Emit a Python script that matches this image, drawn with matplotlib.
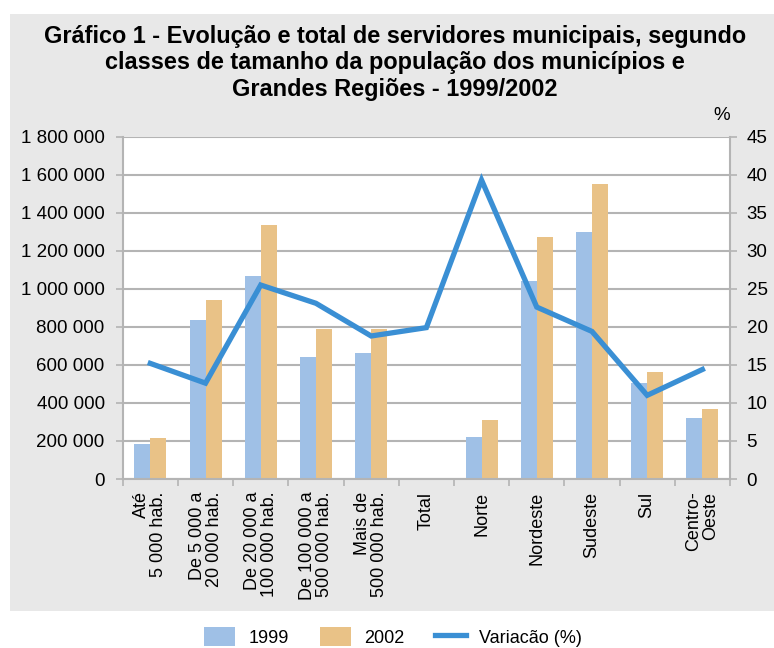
import numpy as np
import matplotlib
matplotlib.use("Agg")
import matplotlib.pyplot as plt
from matplotlib.patches import Rectangle, Patch
from matplotlib.lines import Line2D

plt.rcParams['font.family'] = ['Liberation Sans', 'DejaVu Sans']

categories = ["Até\n5 000 hab.", "De 5 000 a\n20 000 hab.", "De 20 000 a\n100 000 hab.",
              "De 100 000 a\n500 000 hab.", "Mais de\n500 000 hab.", "Total",
              "Norte", "Nordeste", "Sudeste", "Sul", "Centro-\nOeste"]
serv_1999 = [184000, 837000, 1068000, 642000, 663000, np.nan,
             221000, 1042000, 1300000, 505000, 321000]
serv_2002 = [214000, 942000, 1337000, 789000, 789000, np.nan,
             311000, 1274000, 1553000, 563000, 368000]
variacao = [15.2, 12.6, 25.5, 23.1, 18.8, 19.9, 39.3, 22.6, 19.4, 11.0, 14.4]

c1999 = "#9fc0e6"
c2002 = "#e9c287"
cline = "#3a8fd4"
grid_c = "#b4b4b4"

fig = plt.figure(figsize=(7.74, 6.48), dpi=100)
fig.patch.set_facecolor("white")
fig.patches.append(Rectangle((10 / 774, 1 - 611 / 648), 764 / 774, 597 / 648,
                             transform=fig.transFigure, facecolor="#e8e8e8",
                             edgecolor="none", zorder=-10))

ax = fig.add_axes([122.7 / 774, 1 - 479 / 648, (730 - 122.7) / 774, (479 - 136.7) / 648])
ax.set_facecolor("white")
x = np.arange(len(categories))
w = 0.29
ax.bar(x - w / 2, serv_1999, width=w, color=c1999, zorder=2)
ax.bar(x + w / 2, serv_2002, width=w, color=c2002, zorder=2)

ax.set_xlim(-0.5, len(categories) - 0.5)
ax.set_ylim(0, 1800000)
yt = np.arange(0, 1800001, 200000)
ax.set_yticks(yt)
ax.set_yticklabels([f"{v:,}".replace(",", " ") for v in yt], fontsize=13.5)
ax.yaxis.grid(True, color=grid_c, linewidth=1.5, zorder=0)
ax.set_axisbelow(True)

ax.set_xticks(x)
ax.set_xticklabels(categories, rotation=90, fontsize=13, va="top", ha="center",
                   multialignment="right", linespacing=1.0)
ax.tick_params(axis="x", length=0, pad=9)
ax.set_xticks(np.arange(-0.5, len(categories), 1), minor=True)
ax.tick_params(axis="x", which="minor", length=5, color=grid_c, width=1.2)
ax.tick_params(axis="y", length=5, color=grid_c, width=1.2, pad=8)

for s in ["left", "right", "bottom"]:
    ax.spines[s].set_color(grid_c)
    ax.spines[s].set_linewidth(1.5)
ax.spines["top"].set_visible(False)

ax2 = ax.twinx()
ax2.plot(x, variacao, color=cline, linewidth=3.8, zorder=3, solid_joinstyle="miter")
ax2.set_ylim(0, 45)
ax2.set_yticks(np.arange(0, 46, 5))
ax2.tick_params(axis="y", length=5, color=grid_c, width=1.2, labelsize=13.5, pad=7)
for s in ["left", "right", "bottom", "top"]:
    ax2.spines[s].set_visible(False)
fig.text(722 / 774, 1 - 116 / 648, "%", fontsize=13.5, ha="center", va="center")

fig.text(395 / 774, 1 - 63 / 648,
         "Gráfico 1 - Evolução e total de servidores municipais, segundo\n"
         "classes de tamanho da população dos municípios e\n"
         "Grandes Regiões - 1999/2002",
         fontsize=16.9, fontweight="bold", ha="center", va="center", linespacing=1.2)

handles = [Patch(facecolor=c1999, edgecolor="none"),
           Patch(facecolor=c2002, edgecolor="none"),
           Line2D([0], [0], color=cline, linewidth=3.8)]
fig.legend(handles, ["1999", "2002", "Variacão (%)"], loc="center",
           bbox_to_anchor=(393 / 774, 1 - 637 / 648), ncol=3, frameon=False,
           fontsize=13, handlelength=1.72, handleheight=1.22, columnspacing=1.72,
           handletextpad=0.72, borderpad=0, borderaxespad=0)

fig.savefig("out.png", dpi=100)
